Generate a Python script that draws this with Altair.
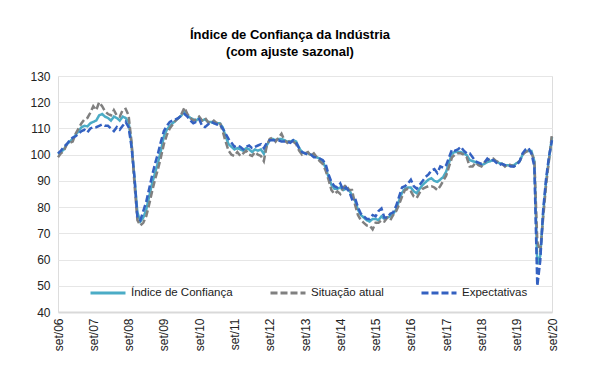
import altair as alt
import pandas as pd

# Monthly values, set/2006 .. set/2020 (169 months)
ici = [
    100.3, 101, 102, 104,
    105, 106, 107.5, 109, 110.5, 111, 110.8, 112, 112.5, 113, 115, 115.5,
    114.5, 114, 113, 114.5, 114, 113, 114.5, 114, 112.5, 104, 91, 78,
    74.5, 76, 79, 84, 89, 93, 97, 101.5, 107, 109.5, 111, 112,
    113, 114, 115, 116.5, 115, 114, 113.5, 113, 114, 113, 113.5, 112.5,
    112.5, 112, 112, 112, 110.5, 107, 104, 103, 102, 102.5, 102, 101.5,
    102.5, 102, 101, 102, 101.5, 102, 100.3, 103.5, 105.5, 106, 105.5, 106,
    106, 105.5, 105, 105, 105.5, 105, 102.5, 101, 100.5, 100.5, 100, 99.5,
    99, 98.5, 97.5, 95, 91.5, 88.5, 87, 87, 87.5, 86.5, 87, 86.5,
    84.5, 82.5, 79, 77, 76, 75, 74.5, 75.5, 75.5, 75, 76.5, 75.5,
    76, 76.5, 77.5, 79, 82.5, 85.5, 87, 87.5, 87.5, 86, 85.3, 87,
    88.5, 89.5, 90.5, 91, 90, 89.6, 90.5, 91.5, 93.5, 97, 100.5, 101,
    101, 101, 100.5, 99.8, 98, 97.5, 97.2, 96.5, 96, 96.5, 97.2, 97.5,
    98, 97.5, 96.8, 96.5, 96, 96, 96, 96, 96.8, 97.5, 100, 101.5,
    101.4, 101.4, 97.5, 58.2, 61.4, 77.6, 89.8, 98.7, 106.7,
]

situacao = [
    99, 100.5, 101.5, 104,
    104.5, 105, 108, 110, 112, 113.5, 114, 116, 118.5, 117, 120, 118.5,
    116.5, 115.5, 115, 117, 115, 114.5, 117, 117.5, 115, 105, 89, 75,
    73, 74, 76.5, 81, 86, 90.5, 94.5, 99, 104, 107.5, 110, 111.5,
    113, 114, 115.5, 118, 115.5, 114, 113, 113.5, 114.5, 113, 114, 112.5,
    112, 113, 112, 112.5, 109, 105, 101.5, 100, 99.5, 101, 99.5, 100.5,
    101.5, 100, 99.5, 101, 100, 99.5, 97.5, 103.5, 106, 106.5, 105, 106.5,
    108, 105.5, 104.5, 105.5, 105, 104, 101.5, 100, 100.5, 101, 99.5, 100.5,
    99, 97.5, 96.5, 94, 90.5, 86.5, 85, 86, 85, 87.5, 88.5, 86.5,
    86.5, 81, 77, 75, 74, 73, 73, 71.5, 74, 74, 75, 74.5,
    76, 75, 77, 78.5, 81, 84, 86.5, 87, 86, 84, 83.5, 85.5,
    87, 87.5, 88, 88, 87.5, 86.5, 88, 90, 92, 95.5, 99, 100,
    100.5, 100.5, 100, 99, 95.5, 95.5, 97, 96, 95.5, 97, 98, 98.5,
    98.5, 97.5, 97, 96.5, 95.5, 96.5, 96, 95.5, 96.5, 97.5, 100, 101,
    101.5, 100.5, 98, 66.8, 63, 76, 88.5, 98, 108,
]

expectativas = [
    100.5, 101.5, 103, 104,
    105.5, 106.5, 107, 108, 109, 109.5, 108.5, 110, 110.5, 110.5, 111, 111.5,
    111, 111, 110, 109, 110.5, 109.5, 111, 112.5, 110.5, 103, 91.5, 76,
    75, 78.5, 82, 87, 92, 96.5, 100.5, 105, 109, 111, 112.5, 113,
    113.5, 114, 115, 115.5, 114.5, 113, 112, 112.5, 113.5, 111, 110.5, 111.5,
    112.5, 112, 111.5, 111.5, 110, 108, 106, 104.5, 103, 103.5, 103, 102,
    103, 103.5, 102.5, 103, 103.5, 104, 102.5, 104.5, 105.5, 105.5, 105.5, 105.5,
    105, 105, 105, 104.5, 105.5, 104.5, 102.5, 101, 100.5, 100, 100, 99,
    99, 98.5, 98, 96.5, 92.5, 89.5, 88, 87.5, 89, 86.5, 87.5, 86,
    83, 83.5, 80, 77.5, 76.5, 75.5, 75.5, 77, 76.5, 78.5, 79.5, 76,
    76, 77.5, 78, 80.5, 84, 87.5, 88, 89, 90.5, 88, 87, 88.5,
    90, 91.5, 92.5, 94, 94.5, 93, 95.5, 95, 96, 99, 102, 101.5,
    102, 103, 101.5, 100.5, 100.5, 99, 97.5, 97, 96.5, 97, 98.5, 97.5,
    98, 97, 96, 96.5, 96, 96, 95.5, 95.5, 96, 97.5, 100.5, 102,
    102.5, 100.5, 95.5, 49.9, 59.5, 79, 91, 99.5, 105.5,
]

series_names = ["Índice de Confiança", "Situação atual", "Expectativas"]
series_colors = ["#4BACC6", "#808080", "#3461C1"]
tick_labels = ["set/06", "set/07", "set/08", "set/09", "set/10", "set/11", "set/12",
               "set/13", "set/14", "set/15", "set/16", "set/17", "set/18", "set/19", "set/20"]
y_ticks = [40, 50, 60, 70, 80, 90, 100, 110, 120, 130]

rows = []
for name, vals in zip(series_names, [ici, situacao, expectativas]):
    for i, v in enumerate(vals):
        rows.append({"m": i, "valor": v, "serie": name})
df = pd.DataFrame(rows)

label_expr = "[" + ",".join("'%s'" % t for t in tick_labels) + "][datum.value / 12]"

x_enc = alt.X("m:Q",
              scale=alt.Scale(domain=[0, 168], nice=False, zero=False),
              axis=alt.Axis(values=list(range(0, 169, 12)), labelExpr=label_expr,
                            labelAngle=-90, grid=False, ticks=False, title=None,
                            domainColor="#D9D9D9", domainWidth=2,
                            labelFont="Liberation Sans", labelFontSize=12,
                            labelColor="#222222", labelPadding=6))
y_enc = alt.Y("valor:Q",
              scale=alt.Scale(domain=[40, 130], nice=False, zero=False),
              axis=alt.Axis(values=y_ticks, grid=True, gridColor="#E6E6E6", gridWidth=1,
                            domain=False, ticks=False, title=None,
                            labelFont="Liberation Sans", labelFontSize=12,
                            labelColor="#222222", labelPadding=8))
color_enc = alt.Color("serie:N",
                      scale=alt.Scale(domain=series_names, range=series_colors),
                      legend=alt.Legend(title=None, orient="none", direction="horizontal",
                                        legendX=31, legendY=198,
                                        symbolType="stroke", symbolSize=1225,
                                        symbolStrokeWidth=3, columnPadding=31,
                                        labelFont="Liberation Sans", labelFontSize=11.5,
                                        labelColor="#222222", labelOffset=4, padding=0))
dash_enc = alt.StrokeDash("serie:N",
                          scale=alt.Scale(domain=series_names, range=[[1, 0], [7, 3], [7, 3]]),
                          legend=None)

layers = []
for name in series_names:
    layers.append(
        alt.Chart(df).transform_filter(alt.datum.serie == name)
        .mark_line(strokeWidth=2.5, strokeCap="butt", interpolate="linear")
        .encode(x=x_enc, y=y_enc, color=color_enc, strokeDash=dash_enc)
    )

chart = alt.layer(*layers).properties(
    width=494, height=236,
    autosize=alt.AutoSizeParams(type="none"),
    padding={"left": 50, "top": 68, "right": 29, "bottom": 59},
    title=alt.TitleParams(text=["Índice de Confiança da Indústria", "(com ajuste sazonal)"],
                          font="Liberation Sans", fontSize=13, fontWeight="bold",
                          color="#000000", anchor="middle", dx=-15, offset=11, lineHeight=17),
).configure_view(stroke=None).configure(background="white")

chart.save("out.html", embed_options={"renderer": "svg", "actions": False})
